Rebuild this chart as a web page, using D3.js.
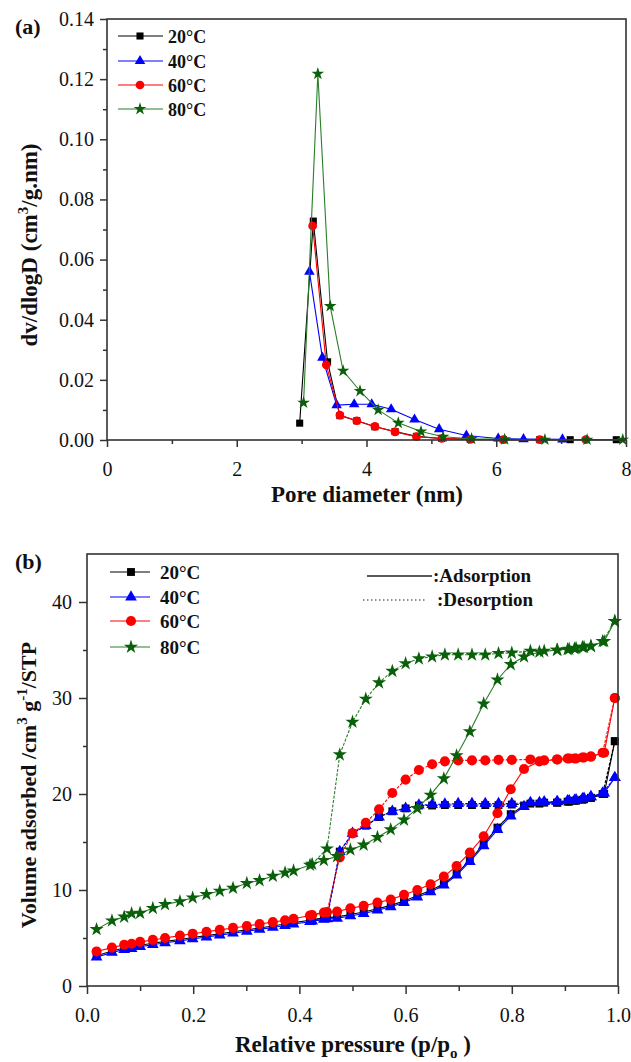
<!DOCTYPE html>
<html lang="en">
<head>
<meta charset="utf-8">
<title>Pore size distribution and isotherms</title>
<script src="https://cdn.jsdelivr.net/npm/d3@7"></script>
<style>
  body { margin: 0; background: #fff; }
  svg text { font-family: "Liberation Serif", "Times New Roman", serif; fill: #111; }
</style>
</head>
<body>
<script>
// ---- panel (a): pore size distribution ----
var labels = ["20\u00B0C", "40\u00B0C", "60\u00B0C", "80\u00B0C"];
var colors = ["#000000", "#0000ff", "#ff0000", "#0a600a"];
var lineColors = ["#000000", "#0000ff", "#ff0000", "#2a7d2a"];

var poreX20 = [2.97, 3.18, 3.40, 3.59, 3.85, 4.13, 4.44, 4.77, 5.16, 5.60, 6.11, 6.67, 7.14, 7.85];
var poreY20 = [0.0056, 0.0728, 0.026, 0.0081, 0.0064, 0.0044, 0.0028, 0.0012, 0.0005, 0.0002, 0.0001, 0.0001, 0.0001, 0.0001];
var poreX40 = [3.12, 3.32, 3.54, 3.81, 4.08, 4.38, 4.74, 5.12, 5.54, 6.03, 6.42, 7.02];
var poreY40 = [0.0560, 0.0274, 0.0116, 0.0119, 0.0119, 0.0102, 0.0068, 0.0036, 0.0015, 0.0005, 0.0003, 0.0002];
var poreX60 = [3.17, 3.38, 3.59, 3.85, 4.13, 4.44, 4.77, 5.16, 5.60, 6.11, 6.67, 7.38];
var poreY60 = [0.0712, 0.0250, 0.0083, 0.0064, 0.0045, 0.0027, 0.0011, 0.0005, 0.0002, 0.0001, 0.0001, 0.0001];
var poreX80 = [3.03, 3.25, 3.44, 3.64, 3.90, 4.18, 4.49, 4.84, 5.18, 5.62, 6.13, 6.75, 7.40, 7.95];
var poreY80 = [0.0124, 0.1218, 0.0445, 0.0230, 0.0163, 0.0100, 0.0057, 0.0028, 0.0011, 0.0004, 0.0002, 0.0001, 0.0001, 0.0001];

var poreTicksX = [0, 2, 4, 6, 8];
var poreTicksY = [0, 0.02, 0.04, 0.06, 0.08, 0.10, 0.12, 0.14];

// ---- panel (b): N2 isotherms ----
var pAds = [0.018, 0.047, 0.07, 0.084, 0.1, 0.124, 0.147, 0.175, 0.199, 0.225, 0.25, 0.275, 0.301, 0.325,
            0.35, 0.373, 0.389, 0.42, 0.446, 0.471, 0.496, 0.521, 0.547, 0.572, 0.597, 0.622, 0.647, 0.672,
            0.696, 0.721, 0.747, 0.773, 0.798, 0.823, 0.852, 0.886, 0.908, 0.921, 0.936, 0.949, 0.974, 0.994];
var vAds20 = [3.15, 3.65, 3.95, 4.05, 4.25, 4.45, 4.65, 4.85, 5.05, 5.25, 5.45, 5.65, 5.85, 6.05, 6.25, 6.45, 6.6,
              6.85, 7.1, 7.2, 7.45, 7.7, 8.05, 8.4, 8.85, 9.4, 9.95, 10.65, 11.7, 13.1, 14.8, 16.5, 17.9, 18.8,
              19.0, 19.1, 19.2, 19.3, 19.45, 19.6, 20.0, 25.5];
var vAds40 = [3.0, 3.5, 3.8, 3.9, 4.1, 4.3, 4.5, 4.7, 4.9, 5.1, 5.3, 5.5, 5.7, 5.9, 6.1, 6.3, 6.45,
              6.7, 6.95, 7.05, 7.3, 7.55, 7.9, 8.25, 8.7, 9.25, 9.8, 10.5, 11.55, 12.95, 14.6, 16.3, 17.7, 18.7,
              19.1, 19.2, 19.3, 19.4, 19.55, 19.7, 20.1, 21.7];
var vAds60 = [3.6, 4.0, 4.3, 4.4, 4.6, 4.8, 5.0, 5.25, 5.45, 5.65, 5.85, 6.05, 6.25, 6.45, 6.65, 6.85, 7.0,
              7.35, 7.65, 7.75, 8.1, 8.35, 8.7, 9.0, 9.5, 10.0, 10.6, 11.4, 12.5, 13.9, 15.6, 18.0, 20.5, 22.6,
              23.4, 23.6, 23.7, 23.7, 23.8, 23.9, 24.3, 30.0];
var vAds80 = [5.9, 6.8, 7.2, 7.55, 7.6, 8.1, 8.5, 8.8, 9.2, 9.55, 9.9, 10.2, 10.7, 11.0, 11.45, 11.8, 12.0,
              12.6, 13.1, 13.5, 14.2, 14.7, 15.5, 16.3, 17.3, 18.5, 19.9, 21.6, 24.0, 26.5, 29.4, 31.9, 33.5, 34.3,
              34.8, 35.0, 35.1, 35.2, 35.3, 35.4, 35.9, 38.0];

var pDes = [0.424, 0.452, 0.476, 0.5, 0.525, 0.55, 0.575, 0.6, 0.625, 0.65, 0.674, 0.699, 0.725, 0.75,
            0.775, 0.8, 0.835, 0.861, 0.885, 0.905, 0.918, 0.933, 0.949, 0.971, 0.994];
var vDes20 = [6.9, 7.1, 14.0, 15.9, 16.7, 17.6, 18.2, 18.5, 18.8, 18.8, 18.85, 18.85, 18.85, 18.85,
              18.85, 18.9, 19.0, 19.1, 19.1, 19.2, 19.3, 19.4, 19.6, 20.0, 25.5];
var vDes40 = [6.75, 7.0, 14.0, 15.9, 16.7, 17.6, 18.2, 18.5, 18.85, 18.9, 18.95, 19.0, 19.0, 19.0,
              19.0, 19.0, 19.1, 19.2, 19.2, 19.3, 19.35, 19.5, 19.7, 20.1, 21.7];
var vDes60 = [7.4, 7.7, 13.4, 15.9, 17.0, 18.4, 20.1, 21.5, 22.5, 23.1, 23.4, 23.5, 23.5, 23.5,
              23.55, 23.55, 23.6, 23.5, 23.6, 23.7, 23.7, 23.8, 23.9, 24.3, 30.0];
var vDes80 = [12.7, 14.3, 24.1, 27.5, 29.9, 31.6, 32.8, 33.6, 34.1, 34.3, 34.5, 34.5, 34.5, 34.5,
              34.65, 34.7, 34.9, 34.9, 35.0, 35.05, 35.15, 35.3, 35.4, 35.9, 38.0];

var isoTicksX = [0, 0.2, 0.4, 0.6, 0.8, 1.0];
var isoTicksY = [0, 10, 20, 30, 40];

var w = 631, h = 1062;
var symbols = [d3.symbolSquare, d3.symbolTriangle, d3.symbolCircle, d3.symbolStar];

var svg = d3.select("body").append("svg")
    .attr("width", w)
    .attr("height", h);

// draws one line + markers
function drawSeries(g, xs, ys, xScale, yScale, i, size, dash) {
  var pts = xs.map(function(d, k) { return [d, ys[k]]; });
  var line = d3.line()
      .x(function(d) { return xScale(d[0]); })
      .y(function(d) { return yScale(d[1]); });
  g.append("path")
      .datum(pts)
      .attr("d", line)
      .attr("fill", "none")
      .attr("stroke", lineColors[i])
      .attr("stroke-width", 1.1)
      .attr("stroke-dasharray", dash || null);
  g.selectAll(null)
      .data(pts)
    .enter()
      .append("path")
      .attr("d", d3.symbol().type(symbols[i]).size(size))
      .attr("transform", function(d) { return "translate(" + xScale(d[0]) + "," + yScale(d[1]) + ")"; })
      .attr("fill", colors[i]);
}

function frame(x0, x1, y0, y1) {
  svg.append("rect")
      .attr("x", x0).attr("y", y1)
      .attr("width", x1 - x0).attr("height", y0 - y1)
      .attr("fill", "none")
      .attr("stroke", "#333")
      .attr("stroke-width", 1.6);
}

function styleAxis(g) {
  g.select(".domain").remove();
  g.selectAll(".tick line").attr("stroke", "#333").attr("stroke-width", 1.5);
  g.selectAll("text").style("font-size", "20px").attr("fill", "#111");
}

// ================= panel (a) =================
var xA = d3.scaleLinear().domain([0, 8]).range([107, 626]);
var yA = d3.scaleLinear().domain([0, 0.14]).range([440, 19]);

var sizesA = [50, 48, 60, 50];
var gA = svg.append("g");
drawSeries(gA, poreX20, poreY20, xA, yA, 0, sizesA[0]);
drawSeries(gA, poreX40, poreY40, xA, yA, 1, sizesA[1]);
drawSeries(gA, poreX60, poreY60, xA, yA, 2, sizesA[2]);
drawSeries(gA, poreX80, poreY80, xA, yA, 3, sizesA[3]);

frame(107, 626, 440, 19);

svg.append("g")
    .attr("transform", "translate(0,440)")
    .call(d3.axisBottom(xA).tickValues(poreTicksX).tickSize(7).tickFormat(d3.format("d")))
    .call(styleAxis)
    .selectAll("text").attr("dy", 0).attr("y", 36);
svg.append("g")
    .attr("transform", "translate(0,440)")
    .call(d3.axisBottom(xA).tickValues([1, 3, 5, 7]).tickSize(4).tickFormat(""))
    .call(styleAxis);
svg.append("g")
    .attr("transform", "translate(107,0)")
    .call(d3.axisLeft(yA).tickValues(poreTicksY).tickSize(7).tickPadding(6).tickFormat(d3.format(".2f")))
    .call(styleAxis);
svg.append("g")
    .attr("transform", "translate(107,0)")
    .call(d3.axisLeft(yA).tickValues([0.01, 0.03, 0.05, 0.07, 0.09, 0.11, 0.13]).tickSize(4).tickFormat(""))
    .call(styleAxis);

svg.append("text")
    .attr("x", 15).attr("y", 34)
    .style("font-size", "22px").style("font-weight", "bold")
    .text("(a)");

svg.append("text")
    .attr("x", 367).attr("y", 502)
    .attr("text-anchor", "middle")
    .style("font-size", "23px").style("font-weight", "bold")
    .text("Pore diameter (nm)");

var tA = svg.append("text")
    .attr("transform", "translate(37,245) rotate(-90)")
    .attr("text-anchor", "middle")
    .style("font-size", "23px").style("font-weight", "bold");
tA.append("tspan").text("dv/dlogD (cm");
tA.append("tspan").attr("dy", -9).style("font-size", "15px").text("3");
tA.append("tspan").attr("dy", 9).text("/g.nm)");

// legend (a)
var legA = [36, 61, 85, 109];
legA.forEach(function(yy, i) {
  svg.append("line")
      .attr("x1", 118).attr("x2", 163).attr("y1", yy).attr("y2", yy)
      .attr("stroke", lineColors[i]).attr("stroke-width", 1.2);
  svg.append("path")
      .attr("d", d3.symbol().type(symbols[i]).size(sizesA[i]))
      .attr("transform", "translate(140," + yy + ")")
      .attr("fill", colors[i]);
  svg.append("text")
      .attr("x", 168).attr("y", yy + 6.5)
      .style("font-size", "18px").style("font-weight", "bold")
      .text(labels[i]);
});

// ================= panel (b) =================
var xB = d3.scaleLinear().domain([0, 1]).range([87, 618]);
var yB = d3.scaleLinear().domain([0, 45]).range([986, 554]);

var gB = svg.append("g");
var adsSets = [vAds20, vAds40, vAds60, vAds80];
var desSets = [vDes20, vDes40, vDes60, vDes80];
var sizesB = [62, 60, 80, 62];
for (var i = 0; i < 4; i++) {
  drawSeries(gB, pAds, adsSets[i], xB, yB, i, sizesB[i]);
  drawSeries(gB, pDes, desSets[i], xB, yB, i, sizesB[i], "3,1.5");
}

frame(87, 618, 986, 554);

svg.append("g")
    .attr("transform", "translate(0,986)")
    .call(d3.axisBottom(xB).tickValues(isoTicksX).tickSize(8).tickFormat(d3.format(".1f")))
    .call(styleAxis)
    .selectAll("text").attr("dy", 0).attr("y", 36);
svg.append("g")
    .attr("transform", "translate(0,986)")
    .call(d3.axisBottom(xB).tickValues([0.1, 0.3, 0.5, 0.7, 0.9]).tickSize(5).tickFormat(""))
    .call(styleAxis);
svg.append("g")
    .attr("transform", "translate(87,0)")
    .call(d3.axisLeft(yB).tickValues(isoTicksY).tickSize(8).tickPadding(7).tickFormat(d3.format("d")))
    .call(styleAxis);
svg.append("g")
    .attr("transform", "translate(87,0)")
    .call(d3.axisLeft(yB).tickValues([5, 15, 25, 35]).tickSize(4).tickFormat(""))
    .call(styleAxis);

svg.append("text")
    .attr("x", 15).attr("y", 569)
    .style("font-size", "22px").style("font-weight", "bold")
    .text("(b)");

var xtB = svg.append("text")
    .attr("x", 353).attr("y", 1052)
    .attr("text-anchor", "middle")
    .style("font-size", "23px").style("font-weight", "bold");
xtB.append("tspan").text("Relative pressure (p/p");
xtB.append("tspan").attr("dy", 6).style("font-size", "15px").text("o");
xtB.append("tspan").attr("dy", -6).text(" )");

var ytB = svg.append("text")
    .attr("transform", "translate(36,785) rotate(-90)")
    .attr("text-anchor", "middle")
    .style("font-size", "22px").style("font-weight", "bold");
ytB.append("tspan").text("Volume adsorbed /cm");
ytB.append("tspan").attr("dy", -9).style("font-size", "15px").text("3");
ytB.append("tspan").attr("dy", 9).text(" g");
ytB.append("tspan").attr("dy", -9).style("font-size", "15px").text("-1");
ytB.append("tspan").attr("dy", 9).text("/STP");

// legend (b)
var legB = [572, 597, 621, 647];
legB.forEach(function(yy, i) {
  svg.append("line")
      .attr("x1", 110).attr("x2", 150).attr("y1", yy).attr("y2", yy)
      .attr("stroke", lineColors[i]).attr("stroke-width", 1);
  svg.append("path")
      .attr("d", d3.symbol().type(symbols[i]).size(sizesB[i]))
      .attr("transform", "translate(131," + yy + ")")
      .attr("fill", colors[i]);
  svg.append("text")
      .attr("x", 160).attr("y", yy + 6.5)
      .style("font-size", "19px").style("font-weight", "bold")
      .text(labels[i]);
});

svg.append("line")
    .attr("x1", 367).attr("x2", 432).attr("y1", 576).attr("y2", 576)
    .attr("stroke", "#222").attr("stroke-width", 1.3);
svg.append("text")
    .attr("x", 433).attr("y", 582)
    .style("font-size", "19px").style("font-weight", "bold")
    .text(":Adsorption");
svg.append("line")
    .attr("x1", 363).attr("x2", 427).attr("y1", 600).attr("y2", 600)
    .attr("stroke", "#222").attr("stroke-width", 1.2)
    .attr("stroke-dasharray", "1.5,2.5");
svg.append("text")
    .attr("x", 437).attr("y", 606)
    .style("font-size", "19px").style("font-weight", "bold")
    .text(":Desorption");
</script>
</body>
</html>
